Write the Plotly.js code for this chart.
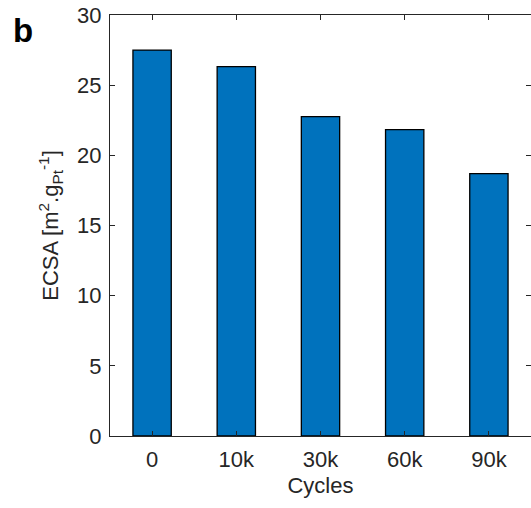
<!DOCTYPE html>
<html>
<head>
<meta charset="utf-8">
<script src="https://cdn.plot.ly/plotly-3.0.1.min.js"></script>
<style>html,body{margin:0;padding:0;background:#fff;}#chart{width:531px;height:508px;}</style>
</head>
<body>
<div id="chart"></div>
<script>
const categories = ["0", "10k", "30k", "60k", "90k"];
const ecsa = [27.5, 26.32, 22.76, 21.83, 18.70];
const yTicks = [0, 5, 10, 15, 20, 25, 30];

const font = "Liberation Sans, Arial, sans-serif";
const axisColor = "#262626";
const fs = 22;

const trace = {
  type: "bar",
  x: categories.map((c, i) => i + 1),
  y: ecsa,
  width: 0.455,
  marker: {color: "#0072BD", line: {color: "#000000", width: 1.3}},
  hoverinfo: "none"
};

const layout = {
  width: 531, height: 508,
  margin: {l: 110, r: 0, t: 15, b: 72},
  paper_bgcolor: "#ffffff", plot_bgcolor: "#ffffff",
  showlegend: false,
  font: {family: font, color: axisColor, size: fs},
  xaxis: {
    range: [0.5, 5.5],
    tickmode: "array",
    tickvals: categories.map((c, i) => i + 1),
    ticktext: categories,
    ticks: "inside", ticklen: 5, tickwidth: 1, tickcolor: axisColor,
    showline: true, linecolor: axisColor, linewidth: 1, mirror: "ticks",
    showgrid: false, zeroline: false,
    ticklabelstandoff: 4,
    tickfont: {size: fs, family: font, color: axisColor},
    title: {text: "Cycles", font: {size: fs, family: font, color: axisColor}, standoff: 6}
  },
  yaxis: {
    range: [0, 30],
    tickmode: "array",
    tickvals: yTicks,
    ticktext: yTicks.map(String),
    ticks: "inside", ticklen: 5, tickwidth: 1, tickcolor: axisColor,
    showline: true, linecolor: axisColor, linewidth: 1, mirror: "ticks",
    showgrid: false, zeroline: false,
    ticklabelstandoff: 3,
    tickfont: {size: fs, family: font, color: axisColor},
    title: {text: "ECSA [m<sup>2</sup>.g<sub>Pt</sub><sup>-1</sup>]", font: {size: fs, family: font, color: axisColor}, standoff: 12}
  },
  annotations: [{
    text: "<b>b</b>", xref: "paper", yref: "paper",
    x: -0.206, y: 0.962, xanchor: "center", yanchor: "middle",
    showarrow: false, font: {size: 33, family: font, color: "#000000"}
  }]
};

Plotly.newPlot("chart", [trace], layout, {staticPlot: true, displayModeBar: false});
</script>
</body>
</html>
